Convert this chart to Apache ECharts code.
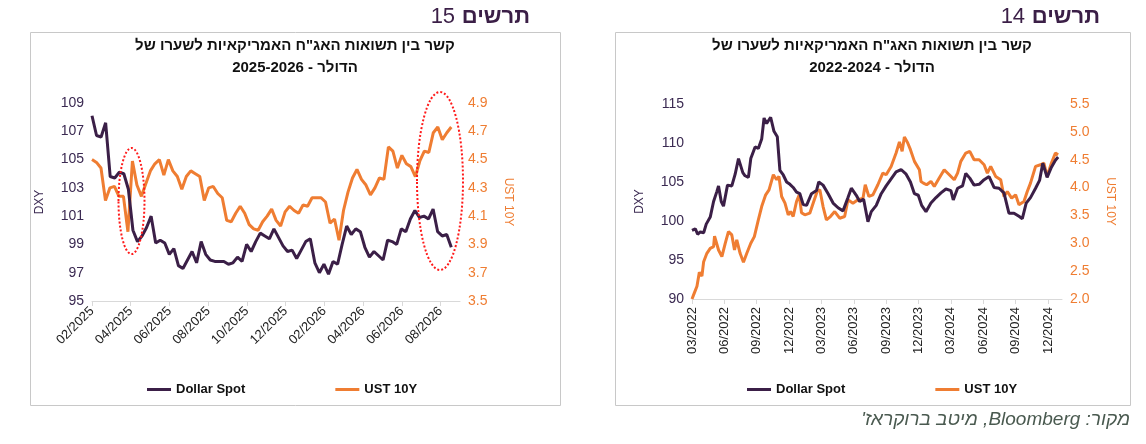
<!DOCTYPE html>
<html>
<head>
<meta charset="utf-8">
<script src="https://cdn.jsdelivr.net/npm/echarts@6/dist/echarts.min.js"></script>
<style>
  html, body { margin: 0; padding: 0; background: #fff; }
  #main { width: 1146px; height: 444px; }
</style>
</head>
<body>
<div id="main"></div>
<script>
'use strict'
// chart 15 (left): weekly points from 02/2025, x = months since 02/2025
var dxy15 = [108.1, 106.7, 106.6, 107.6, 103.8, 103.7, 104.1, 104.0, 102.9, 100.0,
    99.2, 99.6, 100.2, 101.0, 99.1, 99.3, 99.1, 98.3, 98.7, 97.5,
    97.3, 97.9, 98.5, 97.7, 99.2, 98.3, 97.9, 97.8, 97.8, 97.8,
    97.6, 97.7, 98.1, 97.8, 99.0, 98.5, 99.2, 99.8, 99.6, 99.4,
    100.1, 99.5, 98.9, 98.5, 98.6, 98.0, 98.6, 99.2, 99.4, 97.7,
    97.0, 97.6, 96.9, 97.8, 97.6, 99.0, 100.3, 99.7, 100.1, 99.9,
    98.8, 98.1, 98.5, 98.2, 97.9, 99.3, 99.2, 99.0, 100.1, 99.9,
    100.8, 101.4, 100.9, 101.0, 100.8, 101.5, 99.9, 99.6, 99.7, 98.8];
var ust15 = [4.50, 4.48, 4.44, 4.21, 4.30, 4.31, 4.24, 4.24, 3.99, 4.49,
    4.32, 4.24, 4.33, 4.42, 4.47, 4.50, 4.39, 4.50, 4.42, 4.38,
    4.29, 4.38, 4.42, 4.40, 4.38, 4.21, 4.30, 4.31, 4.26, 4.23,
    4.07, 4.06, 4.12, 4.17, 4.12, 4.04, 4.01, 4.00, 4.06, 4.10,
    4.15, 4.07, 4.03, 4.13, 4.17, 4.14, 4.12, 4.18, 4.17, 4.23,
    4.23, 4.23, 4.20, 4.05, 4.08, 3.93, 4.14, 4.27, 4.37, 4.43,
    4.36, 4.32, 4.25, 4.30, 4.37, 4.36, 4.59, 4.56, 4.44, 4.53,
    4.47, 4.45, 4.38, 4.49, 4.56, 4.55, 4.69, 4.73, 4.64, 4.69, 4.73];
var span15 = 18.55; // months covered by the data

// chart 14 (right): [months since 03/2022, value]
var dxy14 = [[0, 98.8], [0.31, 99.0], [0.52, 98.3], [0.77, 98.6], [1.08, 98.5], [1.32, 99.6],
    [1.69, 100.5], [2.0, 102.5], [2.31, 103.8], [2.46, 104.5], [2.71, 102.5], [2.92, 101.9],
    [3.29, 104.6], [3.69, 104.5], [4.0, 106.0], [4.31, 108.0], [4.71, 106.2], [4.92, 105.8],
    [5.23, 105.6], [5.45, 108.0], [5.85, 109.5], [6.15, 109.3], [6.46, 110.5], [6.68, 113.2],
    [6.92, 112.5], [7.29, 113.3], [7.6, 111.5], [7.91, 110.8], [8.15, 106.5], [8.46, 105.9],
    [8.77, 105.0], [9.08, 104.7], [9.38, 104.3], [9.69, 103.7], [10.0, 103.5], [10.31, 102.1],
    [10.62, 102.0], [11.08, 103.5], [11.54, 103.9], [11.75, 105.0], [12.15, 104.6], [12.62, 103.5],
    [13.08, 102.3], [13.54, 101.7], [14.0, 101.3], [14.46, 103.0], [14.77, 104.2], [15.23, 103.3],
    [15.54, 102.5], [15.91, 102.8], [16.31, 99.9], [16.62, 101.2], [17.08, 102.0], [17.54, 103.5],
    [18.0, 104.5], [18.46, 105.4], [18.92, 106.3], [19.38, 106.6], [19.85, 106.0], [20.25, 105.0],
    [20.62, 103.5], [20.98, 103.3], [21.29, 102.0], [21.69, 101.2], [22.15, 102.3], [22.62, 103.0],
    [23.08, 103.6], [23.54, 104.1], [24.0, 103.9], [24.22, 102.7], [24.62, 104.2], [25.08, 104.5],
    [25.38, 106.1], [25.75, 105.5], [26.15, 104.6], [26.62, 104.7], [27.08, 105.3], [27.54, 105.7],
    [28.0, 104.3], [28.46, 104.2], [28.92, 103.6], [29.38, 101.0], [29.85, 101.0], [30.31, 100.6],
    [30.62, 100.3], [30.98, 102.3], [31.38, 103.0], [31.85, 104.2], [32.22, 105.2], [32.52, 107.4],
    [32.92, 105.6], [33.32, 106.9], [33.69, 107.8], [33.94, 108.2]];
var ust14 = [[0, 2.0], [0.22, 2.11], [0.46, 2.23], [0.68, 2.48], [0.92, 2.41], [1.08, 2.67],
    [1.38, 2.82], [1.69, 2.91], [2.0, 2.94], [2.09, 3.13], [2.46, 2.88], [2.77, 2.76],
    [3.08, 3.0], [3.38, 3.21], [3.69, 3.15], [3.94, 2.88], [4.15, 3.06], [4.46, 2.82],
    [4.77, 2.66], [5.08, 2.82], [5.45, 3.0], [5.78, 3.12], [6.15, 3.42], [6.46, 3.66],
    [6.83, 3.87], [7.14, 3.96], [7.54, 4.23], [7.85, 4.14], [8.06, 4.20], [8.31, 3.84],
    [8.62, 3.72], [8.92, 3.51], [9.14, 3.57], [9.38, 3.48], [9.69, 3.75], [9.94, 3.87],
    [10.15, 3.55], [10.46, 3.51], [10.92, 3.54], [11.23, 3.72], [11.6, 3.93], [11.85, 3.96],
    [12.15, 3.66], [12.46, 3.42], [12.83, 3.48], [13.23, 3.57], [13.69, 3.45], [14.15, 3.48],
    [14.46, 3.78], [14.92, 3.72], [15.38, 3.78], [15.85, 3.81], [16.06, 4.05], [16.4, 3.84],
    [16.77, 3.87], [17.23, 4.05], [17.69, 4.26], [18.0, 4.23], [18.46, 4.38], [18.92, 4.62],
    [19.23, 4.82], [19.48, 4.65], [19.69, 4.91], [20.0, 4.80], [20.25, 4.68], [20.62, 4.47],
    [21.08, 4.32], [21.23, 4.11], [21.45, 4.08], [21.75, 4.05], [22.15, 4.11], [22.46, 4.02],
    [22.92, 4.17], [23.38, 4.32], [23.85, 4.23], [24.31, 4.14], [24.62, 4.26], [24.92, 4.47],
    [25.38, 4.62], [25.75, 4.65], [26.15, 4.50], [26.62, 4.50], [27.08, 4.41], [27.38, 4.26],
    [27.69, 4.38], [28.15, 4.20], [28.62, 4.14], [28.92, 3.84], [29.23, 3.93], [29.63, 3.81],
    [30.0, 3.87], [30.31, 3.69], [30.77, 3.75], [31.08, 3.93], [31.38, 4.08], [31.85, 4.38],
    [32.31, 4.41], [32.62, 4.44], [32.92, 4.20], [33.32, 4.44], [33.69, 4.62], [33.94, 4.59]];

var purple = '#3b1f47';
var orange = '#ef7d32';
var fontFam = 'Arial, "Liberation Sans", "DejaVu Sans", sans-serif';

function withX(arr, span) {
    return arr.map(function (v, i) { return [i * span / (arr.length - 1), v]; });
}

function monthLabel(startYear, startMonth) {
    return function (v) {
        var m = startMonth - 1 + Math.round(v);
        var y = startYear + Math.floor(m / 12);
        var mm = (m % 12) + 1;
        return (mm < 10 ? '0' : '') + mm + '/' + y;
    };
}

function xAxisCfg(gi, max, interval, y0, m0, rot) {
    return {
        type: 'value', gridIndex: gi, min: 0, max: max, interval: interval,
        splitLine: { show: false },
        axisLine: { show: true, lineStyle: { color: '#d9d9d9' } },
        axisTick: { show: true, lineStyle: { color: '#d9d9d9' } },
        axisLabel: {
            rotate: rot, color: '#222', fontSize: 13, fontFamily: fontFam,
            showMaxLabel: false, formatter: monthLabel(y0, m0)
        }
    };
}

function yAxisCfg(gi, min, max, interval, name, color, right, dec) {
    return {
        type: 'value', gridIndex: gi, min: min, max: max, interval: interval,
        position: right ? 'right' : 'left',
        name: name, nameLocation: 'middle', nameGap: right ? 42 : 46,
        nameRotate: right ? -90 : 90,
        nameTextStyle: { color: color, fontSize: 12, fontFamily: fontFam },
        splitLine: { show: false },
        axisLine: { show: false }, axisTick: { show: false },
        axisLabel: {
            color: color, fontSize: 14, fontFamily: fontFam,
            formatter: function (v) { return v.toFixed(dec); }
        }
    };
}

function lineSeries(name, xi, yi, color, data) {
    return {
        name: name, type: 'line', xAxisIndex: xi, yAxisIndex: yi,
        data: data, showSymbol: false, smooth: false,
        lineStyle: { color: color, width: 3 }, itemStyle: { color: color }
    };
}

var legendCfg = function (x) {
    return {
        left: x, top: 378, itemWidth: 24, itemHeight: 3, itemGap: 90,
        icon: 'rect',
        textStyle: { fontWeight: 'bold', fontSize: 13, color: '#111', fontFamily: fontFam },
        data: ['Dollar Spot', 'UST 10Y']
    };
};

var titleLines = function (cx, years) {
    return [
        { type: 'text', x: cx, y: 38, style: {
            text: 'קשר בין תשואות האג"ח האמריקאיות לשערו של', textAlign: 'center',
            font: 'bold 15px ' + fontFam, fill: '#111' } },
        { type: 'text', x: cx, y: 60, style: {
            text: years + ' - הדולר', textAlign: 'center',
            font: 'bold 15px ' + fontFam, fill: '#111' } }
    ];
};

var option = {
    animation: false,
    backgroundColor: '#fff',
    grid: [
        { left: 92, top: 103, width: 368, height: 198 },
        { left: 692, top: 104, width: 370, height: 195 }
    ],
    legend: [legendCfg(142), legendCfg(742)],
    xAxis: [
        xAxisCfg(0, 19, 2, 2025, 2, 45),
        xAxisCfg(1, 34.3, 3, 2022, 3, 90)
    ],
    yAxis: [
        yAxisCfg(0, 95, 109, 2, 'DXY', '#3b2a52', false, 0),
        yAxisCfg(0, 3.5, 4.9, 0.2, 'UST 10Y', orange, true, 1),
        yAxisCfg(1, 90, 115, 5, 'DXY', '#3b2a52', false, 0),
        yAxisCfg(1, 2.0, 5.5, 0.5, 'UST 10Y', orange, true, 1)
    ],
    series: [
        lineSeries('UST 10Y', 0, 1, orange, withX(ust15, span15)),
        lineSeries('Dollar Spot', 0, 0, purple, withX(dxy15, span15)),
        lineSeries('UST 10Y', 1, 3, orange, ust14),
        lineSeries('Dollar Spot', 1, 2, purple, dxy14)
    ],
    graphic: [
        { type: 'rect', shape: { x: 30.5, y: 32.5, width: 530, height: 373 },
          style: { fill: 'none', stroke: '#c8c8c8', lineWidth: 1 }, z: -1 },
        { type: 'rect', shape: { x: 615.5, y: 32.5, width: 515, height: 373 },
          style: { fill: 'none', stroke: '#c8c8c8', lineWidth: 1 }, z: -1 },
        { type: 'text', right: 1146 - 530, top: 6, style: {
            text: '{n|15}  {b|תרשים}',
            rich: {
                n: { font: '22px ' + fontFam, fill: '#3b1f47' },
                b: { font: 'bold 22px ' + fontFam, fill: '#3b1f47' }
            } } },
        { type: 'text', right: 1146 - 1100, top: 6, style: {
            text: '{n|14}  {b|תרשים}',
            rich: {
                n: { font: '22px ' + fontFam, fill: '#3b1f47' },
                b: { font: 'bold 22px ' + fontFam, fill: '#3b1f47' }
            } } },
        { type: 'ellipse', shape: { cx: 131.5, cy: 201, rx: 13, ry: 53 },
          style: { fill: 'none', stroke: '#ff1a1a', lineWidth: 2, lineDash: [2, 2] }, z: 10 },
        { type: 'ellipse', shape: { cx: 440, cy: 181, rx: 23, ry: 89 },
          style: { fill: 'none', stroke: '#ff1a1a', lineWidth: 2, lineDash: [2, 2] }, z: 10 },
        { type: 'text', right: 16, top: 410, style: {
            text: "{t|'}{t|מיטב ברוקראז}{t| ,}{t|Bloomberg}{t| :}{t|מקור}",
            rich: { t: { font: 'italic 19px ' + fontFam, fill: '#4a5a50' } } } }
    ].concat(titleLines(295, '2025-2026'), titleLines(872, '2022-2024'))
};

var myChart = echarts.init(document.getElementById('main'));
myChart.setOption(option);
</script>
</body>
</html>
